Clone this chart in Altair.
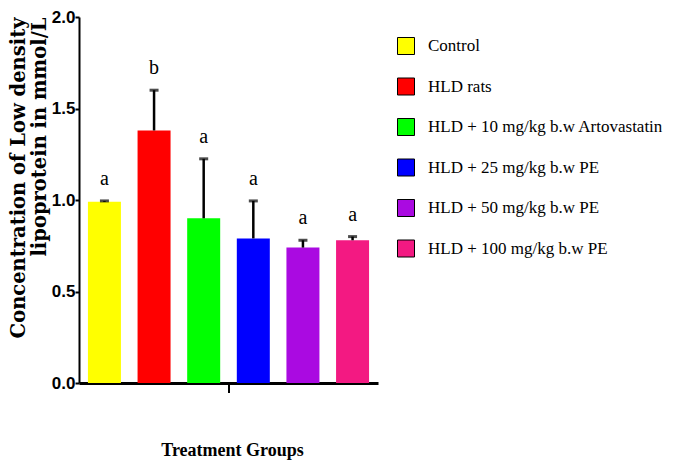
import altair as alt
import pandas as pd

groups = [
    "Control",
    "HLD rats",
    "HLD + 10 mg/kg b.w Artovastatin",
    "HLD + 25 mg/kg b.w PE",
    "HLD + 50 mg/kg b.w PE",
    "HLD + 100 mg/kg b.w PE",
]
means = [0.99, 1.38, 0.90, 0.79, 0.74, 0.78]
sems = [0.005, 0.22, 0.325, 0.205, 0.04, 0.02]
letters = ["a", "b", "a", "a", "a", "a"]
colors = ["#FFFF00", "#FF0000", "#00FF00", "#0000FF", "#AA0AE1", "#F31982"]
y_ticks = [0.0, 0.5, 1.0, 1.5, 2.0]

SERIF = "Liberation Serif, Times New Roman, serif"
WIDE_SERIF = "DejaVu Serif, Liberation Serif, serif"
SANS = "Liberation Sans, Arial, sans-serif"

df = pd.DataFrame({"group": groups, "mean": means, "sem": sems, "letter": letters})
df["top"] = df["mean"] + df["sem"]

x_enc = alt.X(
    "group:N",
    sort=groups,
    scale=alt.Scale(paddingInner=0.335, paddingOuter=0.18),
    axis=alt.Axis(
        labels=False,
        ticks=False,
        grid=False,
        title="Treatment Groups",
        titleFont=SERIF,
        titleFontSize=18,
        titleFontWeight="bold",
        titleColor="black",
        titlePadding=58,
        titleX=153,
        domainWidth=3,
        domainColor="black",
    ),
)

base = alt.Chart(df)

bars = base.mark_bar().encode(
    x=x_enc,
    y=alt.Y(
        "mean:Q",
        scale=alt.Scale(domain=[0, 2]),
        axis=alt.Axis(
            values=y_ticks,
            format=".1f",
            title=["Concentration of Low density", "lipoprotein in mmol/L"],
            titleFont=WIDE_SERIF,
            titleFontSize=19.5,
            titleFontWeight="bold",
            titleColor="black",
            titlePadding=2,
            titleLineHeight=21,
            titleAlign="right",
            titleY=0,
            labelFont=SANS,
            labelFontSize=17,
            labelFontWeight="bold",
            labelColor="black",
            labelPadding=0,
            domainWidth=2,
            domainColor="black",
            tickColor="black",
            tickWidth=2,
            tickSize=4,
            grid=False,
        ),
    ),
    color=alt.Color(
        "group:N",
        sort=groups,
        scale=alt.Scale(domain=groups, range=colors),
        legend=alt.Legend(
            title=None,
            orient="none",
            legendX=318,
            legendY=20,
            symbolType="square",
            symbolSize=289,
            symbolStrokeColor="black",
            symbolStrokeWidth=1,
            symbolOpacity=1,
            labelFont=SERIF,
            labelFontSize=17,
            labelColor="black",
            labelOffset=13,
            labelLimit=400,
            rowPadding=18.5,
        ),
    ),
)

err = base.mark_rule(color="black", strokeWidth=2.5).encode(
    x=alt.X("group:N", sort=groups),
    y="mean:Q",
    y2="top:Q",
)

caps = base.mark_tick(color="black", thickness=3, size=9).encode(
    x=alt.X("group:N", sort=groups),
    y="top:Q",
)

labels = base.mark_text(
    baseline="bottom", dy=-12, font=SERIF, fontSize=20, color="black"
).encode(
    x=alt.X("group:N", sort=groups),
    y="top:Q",
    text="letter:N",
)

center_tick = base.mark_rule(color="black", strokeWidth=2).encode(
    x=alt.value(150), y=alt.value(368), y2=alt.value(376)
)

chart = (
    alt.layer(bars, err, caps, labels, center_tick)
    .properties(
        width=299,
        height=366,
        background="white",
        autosize=alt.AutoSizeParams(type="none"),
        padding={"left": 71, "top": 9, "right": 295, "bottom": 79},
    )
    .configure_view(stroke="white", strokeWidth=1, fill="white")
    .configure_axis(grid=False)
)

chart.save("out.html", embed_options={"renderer": "svg", "actions": False})
